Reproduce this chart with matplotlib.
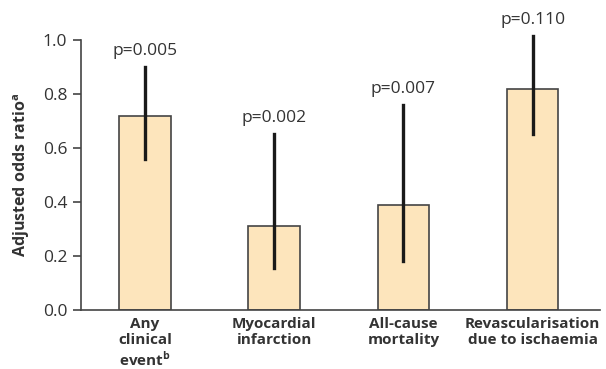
import matplotlib
matplotlib.use('Agg')
import matplotlib.pyplot as plt
import numpy as np

categories = ['Any\nclinical\nevent$^{\\mathbf{b}}$', 'Myocardial\ninfarction',
              'All-cause\nmortality', 'Revascularisation\ndue to ischaemia']
odds_ratio = [0.72, 0.31, 0.39, 0.82]
ci_low = [0.56, 0.155, 0.18, 0.65]
ci_high = [0.90, 0.65, 0.76, 1.015]
p_labels = ['p=0.005', 'p=0.002', 'p=0.007', 'p=0.110']

plt.rcParams['font.family'] = ['Open Sans', 'DejaVu Sans']
plt.rcParams['mathtext.fontset'] = 'custom'
plt.rcParams['mathtext.bf'] = 'Open Sans:bold'
plt.rcParams['mathtext.rm'] = 'Open Sans'
text_col = '#333333'

fig = plt.figure(figsize=(6.06, 3.69), dpi=100)
ax = fig.add_axes([0.1337, 0.160, 0.856, 0.7316])

x = np.arange(len(categories))
ax.bar(x, odds_ratio, width=0.40, color='#FDE5BC', edgecolor='#444444', linewidth=1.2, zorder=2)
for xi, lo, hi, lab in zip(x, ci_low, ci_high, p_labels):
    ax.plot([xi, xi], [lo, hi], color='#1a1a1a', linewidth=2.4, zorder=3, clip_on=False)
    ax.text(xi, hi + 0.03, lab, ha='center', va='bottom', fontsize=12.5, color=text_col)

ax.set_xlim(-0.495, 3.52)
ax.set_ylim(0, 1.0)
ax.set_yticks([0.0, 0.2, 0.4, 0.6, 0.8, 1.0])
ax.set_yticklabels(['0.0', '0.2', '0.4', '0.6', '0.8', '1.0'])
ax.set_xticks(x)
ax.set_xticklabels(categories, fontweight='bold', fontsize=11, color=text_col, linespacing=1.2)
ax.tick_params(axis='x', length=0, pad=5)
ax.tick_params(axis='y', direction='out', length=6, width=1.2, colors='#444444', labelsize=12.5,
               labelcolor=text_col, pad=4)
ax.set_ylabel('Adjusted odds ratio$^{\\mathbf{a}}$', fontweight='bold', fontsize=11.5, color=text_col,
              labelpad=8)

for s in ['top', 'right']:
    ax.spines[s].set_visible(False)
ax.spines['left'].set_color('#444444')
ax.spines['bottom'].set_color('#444444')
ax.spines['left'].set_linewidth(1.2)
ax.spines['bottom'].set_linewidth(1.2)

fig.savefig('out.png', dpi=100)
